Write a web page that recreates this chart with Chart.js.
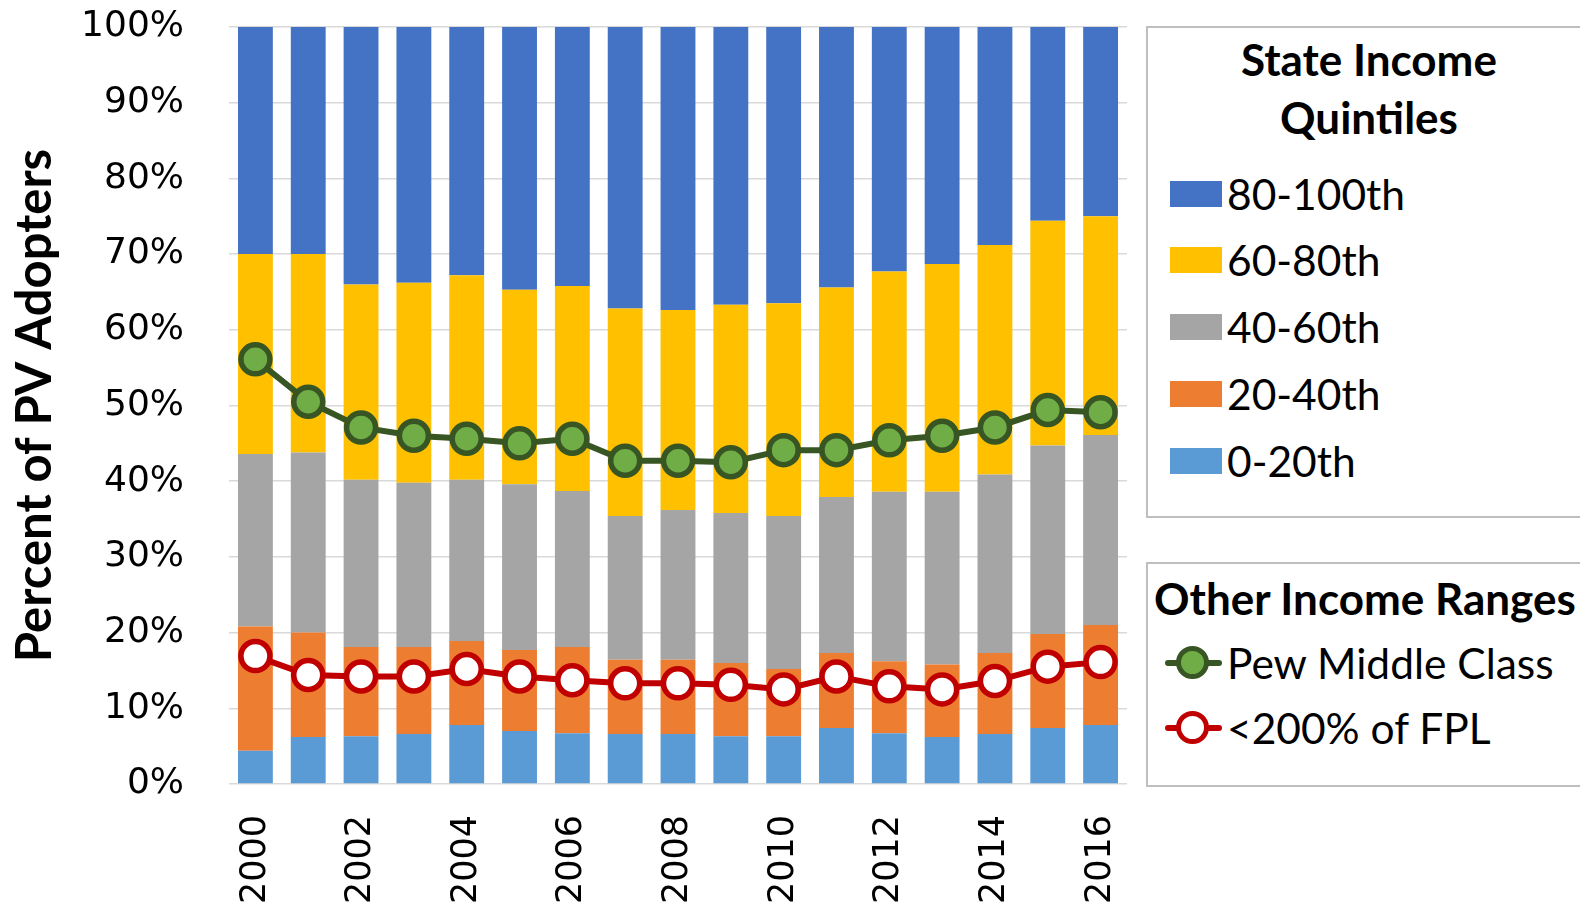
<!DOCTYPE html>
<html><head><meta charset="utf-8">
<script src="https://cdn.jsdelivr.net/npm/chart.js@4"></script>
<style>
html,body{margin:0;padding:0;background:#fff;}
#wrap{position:relative;width:1580px;height:912px;overflow:hidden;background:#fff;}
#c{position:absolute;left:0;top:0;}
.box{position:absolute;border:2px solid #bfbfbf;box-sizing:border-box;background:#fff;font-family:Lato, 'Open Sans', sans-serif;color:#000;}
.ttl{position:absolute;font-weight:bold;font-size:44px;white-space:nowrap;}
.item{position:absolute;height:50px;font-size:42.5px;line-height:50px;white-space:nowrap;}
.sw{position:absolute;width:52px;height:26px;top:12px;}
.ln{position:absolute;height:6px;width:57px;top:22px;border-radius:3px;}
.dot{position:absolute;width:23px;height:23px;border-radius:50%;border-width:5.5px;border-style:solid;top:8px;}
</style></head>
<body>
<div id="wrap">
<canvas id="c" width="1580" height="912"></canvas>
<div class="box" id="box1" style="left:1146px;top:26px;width:460px;height:492px;">
  <div class="ttl" style="left:0;top:2px;width:442px;text-align:center;line-height:58px;">State Income<br>Quintiles</div>
</div>
<div class="box" id="box2" style="left:1146px;top:562px;width:460px;height:225px;">
  <div class="ttl" style="left:6px;top:8px;line-height:52px;">Other Income Ranges</div>
</div>
</div>
<script>
const years = ['2000','2001','2002','2003','2004','2005','2006','2007','2008','2009','2010','2011','2012','2013','2014','2015','2016'];
const shownYears = ['2000','2002','2004','2006','2008','2010','2012','2014','2016'];
const yTicks = [0,10,20,30,40,50,60,70,80,90,100];

const q0_20   = [4.4,6.2,6.3,6.6,7.8,7.0,6.7,6.6,6.6,6.3,6.3,7.4,6.7,6.2,6.6,7.4,7.8];
const q20_40  = [16.4,13.8,11.8,11.5,11.1,10.7,11.4,9.8,9.8,9.7,8.9,9.9,9.5,9.6,10.7,12.4,13.2];
const q40_60  = [22.8,23.8,22.1,21.7,21.3,21.9,20.6,19.0,19.8,19.8,20.2,20.6,22.4,22.8,23.6,24.9,25.1];
const q60_80  = [26.4,26.2,25.8,26.4,27.0,25.7,27.1,27.4,26.4,27.5,28.1,27.7,29.1,30.1,30.3,29.7,28.9];
const q80_100 = [30.0,30.0,34.0,33.8,32.8,34.7,34.2,37.2,37.4,36.7,36.5,34.4,32.3,31.3,28.8,25.6,25.0];

const pewMiddle = [56.1,50.5,47.1,46.0,45.6,45.0,45.6,42.7,42.7,42.5,44.1,44.1,45.4,46.0,47.1,49.4,49.1];
const fpl200    = [16.9,14.4,14.2,14.2,15.2,14.2,13.7,13.3,13.3,13.1,12.5,14.2,12.9,12.5,13.6,15.5,16.1];

const quintileNames  = ['80-100th','60-80th','40-60th','20-40th','0-20th'];
const quintileColors = ['#4472C4','#FFC000','#A5A5A5','#ED7D31','#5B9BD5'];
const lineNames = ['Pew Middle Class','<200% of FPL'];

const barBase = {type:'bar', stack:'q', order:1, barPercentage:0.66, categoryPercentage:1.0, borderWidth:0};
const datasets = [
  Object.assign({label:'0-20th', data:q0_20, backgroundColor:'#5B9BD5'}, barBase),
  Object.assign({label:'20-40th', data:q20_40, backgroundColor:'#ED7D31'}, barBase),
  Object.assign({label:'40-60th', data:q40_60, backgroundColor:'#A5A5A5'}, barBase),
  Object.assign({label:'60-80th', data:q60_80, backgroundColor:'#FFC000'}, barBase),
  Object.assign({label:'80-100th', data:q80_100, backgroundColor:'#4472C4'}, barBase),
  {type:'line', label:lineNames[0], data:pewMiddle, stack:'pew', order:0,
   borderColor:'#375623', borderWidth:6, pointBackgroundColor:'#70AD47', pointBorderColor:'#375623',
   pointBorderWidth:5.5, pointRadius:14.5, pointHoverRadius:14.5, tension:0, fill:false},
  {type:'line', label:lineNames[1], data:fpl200, stack:'fpl', order:0,
   borderColor:'#C00000', borderWidth:6, pointBackgroundColor:'#FFFFFF', pointBorderColor:'#C00000',
   pointBorderWidth:5.5, pointRadius:14.5, pointHoverRadius:14.5, tension:0, fill:false}
];

const target = {top:27, bottom:784, left:229, right:1127};
const chart = new Chart(document.getElementById('c'), {
  data: {labels: years, datasets: datasets},
  options: {
    responsive:false, animation:false, devicePixelRatio:1,
    layout:{padding:{top:27, right:453, bottom:0, left:0}},
    plugins:{legend:{display:false}, tooltip:{enabled:false}},
    scales:{
      x:{
        stacked:true,
        grid:{display:false, drawTicks:false},
        border:{display:false},
        ticks:{autoSkip:false, maxRotation:90, minRotation:90, padding:31, color:'#000',
          font:{family:'DejaVu Sans', size:35},
          callback:function(v, i){ const y = years[i]; return shownYears.includes(y) ? y : ''; }},
        afterFit:function(s){ s.height = 128; s.paddingLeft = 0; s.paddingRight = 0; }
      },
      y:{
        stacked:true, min:0, max:100,
        afterBuildTicks:function(s){ s.ticks = yTicks.map(v => ({value:v})); },
        grid:{color:'#D9D9D9', lineWidth:1.5, drawTicks:false},
        border:{display:false},
        ticks:{padding:45, color:'#000', font:{family:'DejaVu Sans', size:36},
          callback:function(v){ return v + '%'; }},
        title:{display:true, text:'Percent of PV Adopters', color:'#000',
          font:{family:'Lato', size:49, weight:'bold'}, padding:{top:6, bottom:0}},
        afterFit:function(s){ s.width = 229; s.paddingTop = 20; s.paddingBottom = 20; }
      }
    }
  }
});
// nudge layout padding so the plot area lands where the reference has it
(function(){
  const p = chart.options.layout.padding;
  for (let k = 0; k < 3; k++) {
    const ca = chart.chartArea;
    p.top += target.top - ca.top;
    p.bottom += ca.bottom - target.bottom;
    p.right += ca.right - target.right;
    chart.update();
  }
})();

// legend boxes built from series names/colours
const box1 = document.getElementById('box1');
const rowY1 = [141, 207, 274, 341, 408];
quintileNames.forEach((n, i) => {
  const d = document.createElement('div');
  d.className = 'item';
  d.style.left = '22px'; d.style.top = rowY1[i] + 'px';
  d.innerHTML = '<div class="sw" style="left:0;background:' + quintileColors[i] + '"></div>' +
                '<span style="position:absolute;left:57px;top:0;"></span>';
  d.querySelector('span').textContent = n;
  box1.appendChild(d);
});
const box2 = document.getElementById('box2');
const lineCols = [['#375623','#70AD47'],['#C00000','#FFFFFF']];
const rowY2 = [74, 139];
lineNames.forEach((n, i) => {
  const d = document.createElement('div');
  d.className = 'item';
  d.style.left = '17px'; d.style.top = rowY2[i] + 'px';
  d.innerHTML = '<div class="ln" style="left:0;background:' + lineCols[i][0] + '"></div>' +
                '<div class="dot" style="left:11px;border-color:' + lineCols[i][0] + ';background:' + lineCols[i][1] + '"></div>' +
                '<span style="position:absolute;left:62px;top:0;"></span>';
  d.querySelector('span').textContent = n;
  box2.appendChild(d);
});
</script>
</body></html>
